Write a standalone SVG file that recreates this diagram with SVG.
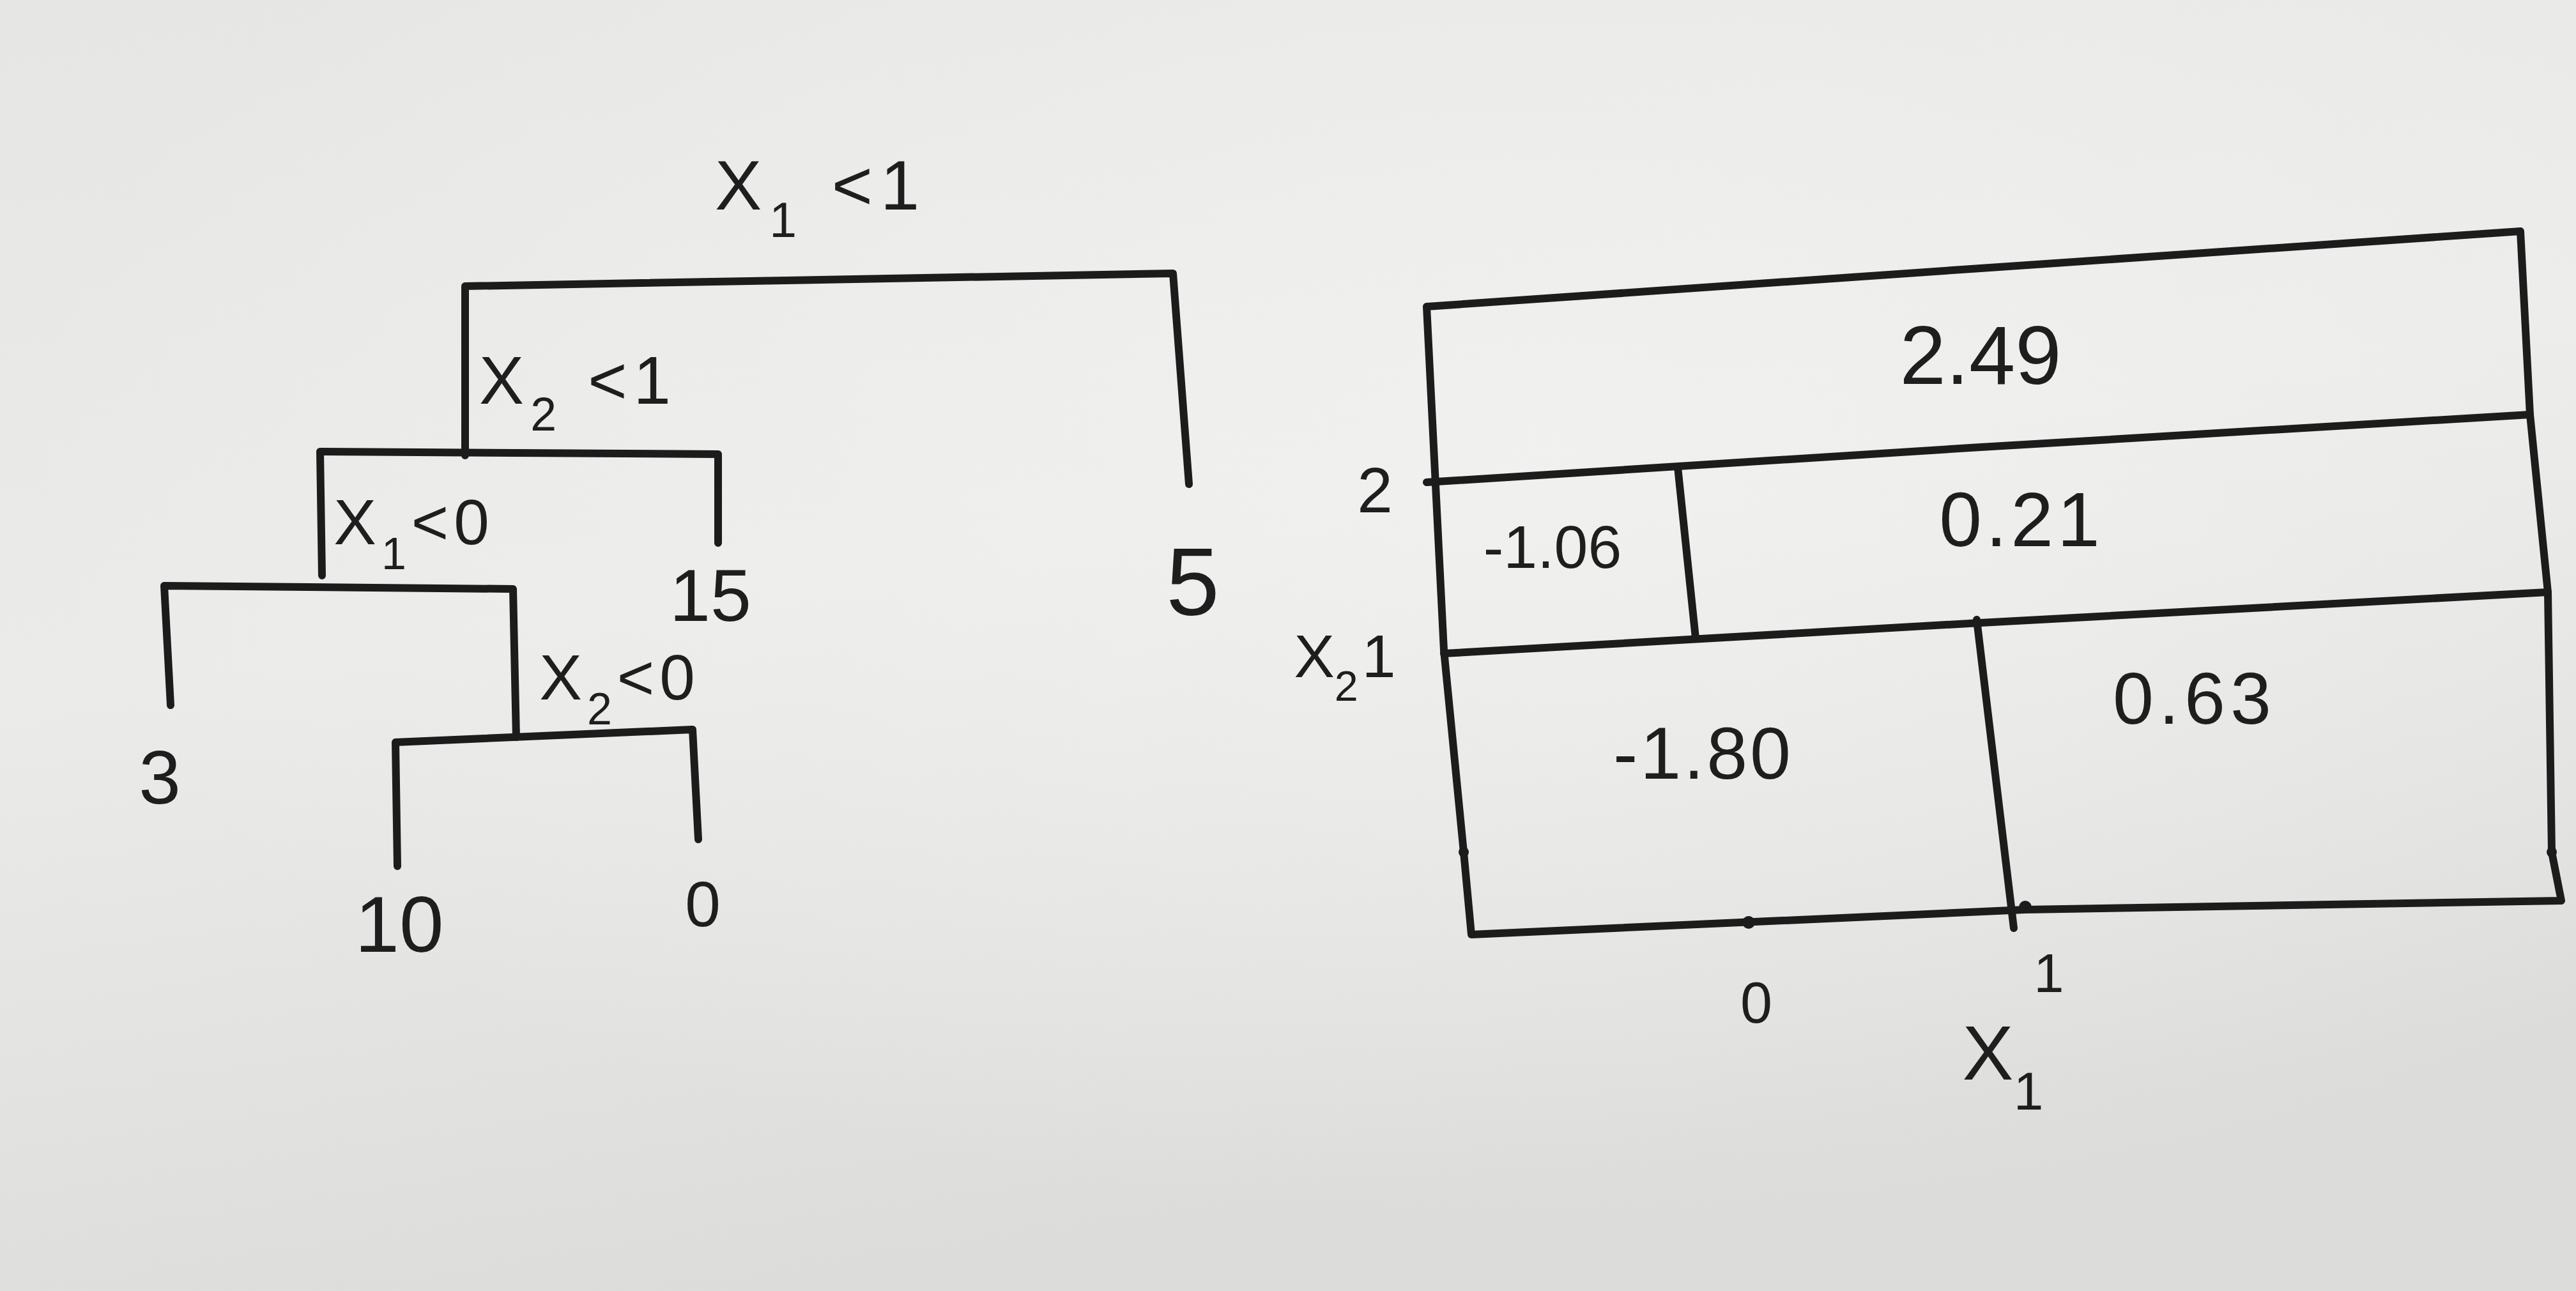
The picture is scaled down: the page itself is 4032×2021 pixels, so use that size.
<svg xmlns="http://www.w3.org/2000/svg" width="4032" height="2021" viewBox="0 0 4032 2021">
<defs>
<linearGradient id="bg" x1="0" y1="0" x2="0.3" y2="1">
<stop offset="0" stop-color="#e6e6e4"/>
<stop offset="0.5" stop-color="#ebebea"/>
<stop offset="1" stop-color="#dcdcdb"/>
</linearGradient>
<radialGradient id="glow" cx="0.6" cy="0.35" r="0.6">
<stop offset="0" stop-color="#f2f2f1" stop-opacity="0.8"/>
<stop offset="1" stop-color="#f2f2f1" stop-opacity="0"/>
</radialGradient>
</defs>
<style>
.ink{fill:none;stroke:#1c1c1c;stroke-width:12;stroke-linecap:round;stroke-linejoin:round}
.t{font-family:"Liberation Sans","DejaVu Sans",sans-serif;fill:#1e1e1e;text-anchor:middle}
.s{font-size:70%}
.dot{fill:#1c1c1c}
</style>
<rect x="0" y="0" width="4032" height="2021" fill="url(#bg)"/>
<rect x="0" y="0" width="4032" height="2021" fill="url(#glow)"/>

<g id="connectors">
<polyline class="ink" points="728,713 728,448 1836,428 1861,758"/>
<polyline class="ink" points="504,901 501,707 1124,711 1124,850"/>
<polyline class="ink" points="267,1104 257,917 803,922 808,1154"/>
<polyline class="ink" points="622,1356 619,1162 1084,1142 1093,1314"/>
</g>

<g id="node-root">
<text class="t" x="1285" y="328" font-size="110" letter-spacing="12">X<tspan class="s" baseline-shift="sub">1</tspan> &lt;1</text>
</g>
<g id="node-x2lt1">
<text class="t" x="905" y="632" font-size="105" letter-spacing="10">X<tspan class="s" baseline-shift="sub">2</tspan> &lt;1</text>
</g>
<g id="node-x1lt0">
<text class="t" x="648" y="852" font-size="100" letter-spacing="8">X<tspan class="s" baseline-shift="sub">1</tspan>&lt;0</text>
</g>
<g id="node-x2lt0">
<text class="t" x="970" y="1095" font-size="100" letter-spacing="8">X<tspan class="s" baseline-shift="sub">2</tspan>&lt;0</text>
</g>
<g id="leaf-5"><text class="t" x="1867" y="963" font-size="150">5</text></g>
<g id="leaf-15"><text class="t" x="1112" y="972" font-size="115">15</text></g>
<g id="leaf-3"><text class="t" x="250" y="1258" font-size="118">3</text></g>
<g id="leaf-10"><text class="t" x="625" y="1490" font-size="125">10</text></g>
<g id="leaf-0"><text class="t" x="1100" y="1450" font-size="100">0</text></g>

<g id="partition">
<path class="ink" d="M2233,480 L3100,420 L3945,362 L3960,649 L3988,927 L3994,1334 L4009,1410 L3170,1424 L2303,1463 L2291,1334 L2260,1018 L2233,480 Z"/>
<polyline class="ink" points="2233,755 3100,700 3960,649"/>
<polyline class="ink" points="2260,1023 3100,975 3988,927"/>
<line class="ink" x1="2626" y1="731" x2="2654" y2="999"/>
<line class="ink" x1="3094" y1="970" x2="3152" y2="1453"/>
<circle class="dot" cx="2737" cy="1444" r="10"/>
<circle class="dot" cx="3170" cy="1420" r="10"/>
<circle class="dot" cx="2291" cy="1334" r="8"/>
<circle class="dot" cx="3994" cy="1334" r="8"/>
<text class="t" x="3100" y="601" font-size="130">2.49</text>
<text class="t" x="3164" y="855" font-size="120" letter-spacing="6">0.21</text>
<text class="t" x="2430" y="889" font-size="95">-1.06</text>
<text class="t" x="3435" y="1133" font-size="115" letter-spacing="8">0.63</text>
<text class="t" x="2666" y="1219" font-size="115" letter-spacing="4">-1.80</text>
<text class="t" x="2152" y="802" font-size="100">2</text>
<text class="t" x="2105" y="1060" font-size="95">X<tspan class="s" baseline-shift="sub">2</tspan><tspan dx="6">1</tspan></text>
<text class="t" x="2749" y="1601" font-size="90">0</text>
<text class="t" x="3207" y="1553" font-size="85">1</text>
<text class="t" x="3135" y="1690" font-size="120">X<tspan class="s" baseline-shift="sub">1</tspan></text>
</g>
</svg>
